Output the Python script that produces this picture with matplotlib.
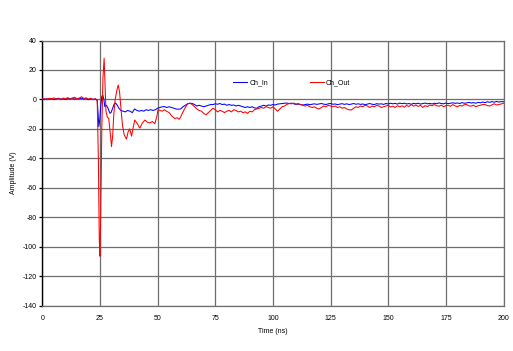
import matplotlib
matplotlib.use("Agg")
import matplotlib.pyplot as plt

plt.rcParams['font.family'] = ['Liberation Sans', 'DejaVu Sans']
plt.rcParams['axes.unicode_minus'] = False

# ---- Ch_In (blue), 0-59 ns, irregular sampling around the trigger ----
t_in_early = [0, 1, 2, 3, 4, 5, 6, 7, 8, 9,
              10, 11, 12, 13, 14, 15, 16, 17, 18, 19,
              20, 21, 22, 23, 23.8, 24.2, 24.5, 24.9, 25.3, 25.8,
              26.2, 26.7, 27.1, 27.8, 28.5, 29.3, 29.8, 30.5, 31.2, 31.8,
              32.5, 33.2, 34, 35, 36, 37, 38, 39, 40, 41,
              42, 43, 44, 45, 46, 47, 48, 49, 50, 51,
              52, 53, 54, 55, 56, 57, 58, 59]
v_in_early = [0.3, -0.2, 0.5, 0.1, 0.6, -0.1, 0.4, 0.8, 0.2, 0.5,
              -0.1, 0.6, 0.3, 0.9, 0.2, 0.6, 0.4, 0.8, 0.3, 0.5,
              -0.2, 0.4, 0.1, 0.3, -0.5, -10, -18.5, -14, -5, 2,
              3, 0, -4.9, -4, -6, -9.4, -9, -6, -3, -2.5,
              -4, -6, -7.5, -8, -8.5, -7.5, -8, -9, -6.5, -7.5,
              -8, -7.5, -8, -7, -7.5, -7, -7.5, -7, -6, -5.5,
              -5, -4.9, -5.5, -5, -5.5, -6, -6.5, -6.7]

# ---- Ch_Out (red), 0-59 ns ----
t_out_early = [0, 1, 2, 3, 4, 5, 6, 7, 8, 9,
               10, 11, 12, 13, 14, 15, 16, 17, 18, 19,
               20, 21, 22, 23, 23.8, 24.3, 24.7, 25.0, 25.3, 25.8,
               26.3, 26.8, 27.2, 27.6, 28.2, 28.8, 29.4, 30.0, 30.5, 31.0,
               31.6, 32.3, 32.9, 33.5, 34.2, 34.8, 35.5, 36.5, 37.2, 37.9,
               38.7, 39.4, 40.1, 41, 42.3, 43.4, 44.5, 45.5, 46.6, 47.7,
               48.8, 49.6, 50.2, 51, 52, 53, 53.8, 55, 56, 57.4,
               58.5, 59.3]
v_out_early = [0.2, 0.5, -0.3, 0.8, 0.3, 1.0, 0.2, 0.6, -0.2, 0.9,
               0.4, 1.2, 0.3, 0.7, 1.5, 0.5, 0.9, 1.8, 0.6, 1.1,
               0.2, 0.8, -0.3, 0.5, -1.0, -40, -95, -106.5, -80, -20,
               15, 28, 10, -8, -12, -13, -22, -32, -25, -10,
               0, 6, 9.8, 5, -8, -18, -24, -27, -22, -20,
               -25, -19, -14, -16, -19.5, -16, -14, -15.5, -16, -15,
               -16.5, -12, -7, -7.5, -8, -7, -8, -9, -11, -13,
               -12.5, -13.5]

# ---- 60-200 ns, 1 ns sampling, both channels ----
t_tail = [60, 61, 62, 63, 64, 65, 66, 67, 68, 69,
          70, 71, 72, 73, 74, 75, 76, 77, 78, 79,
          80, 81, 82, 83, 84, 85, 86, 87, 88, 89,
          90, 91, 92, 93, 94, 95, 96, 97, 98, 99,
          100, 101, 102, 103, 104, 105, 106, 107, 108, 109,
          110, 111, 112, 113, 114, 115, 116, 117, 118, 119,
          120, 121, 122, 123, 124, 125, 126, 127, 128, 129,
          130, 131, 132, 133, 134, 135, 136, 137, 138, 139,
          140, 141, 142, 143, 144, 145, 146, 147, 148, 149,
          150, 151, 152, 153, 154, 155, 156, 157, 158, 159,
          160, 161, 162, 163, 164, 165, 166, 167, 168, 169,
          170, 171, 172, 173, 174, 175, 176, 177, 178, 179,
          180, 181, 182, 183, 184, 185, 186, 187, 188, 189,
          190, 191, 192, 193, 194, 195, 196, 197, 198, 199,
          200]
v_in_tail = [-6.5, -5, -4, -3, -2.6, -2.8, -3.5, -4.5, -4, -4.5,
             -5, -4.5, -4, -3.5, -3.5, -3, -3.3, -2.8, -3.5, -3.2,
             -4, -3.5, -4, -3.8, -4.5, -4, -4.5, -5, -5.5, -5,
             -5.5, -5, -5.8, -6, -5, -4.5, -4, -4.5, -3.8, -4,
             -3.5, -3.8, -3.2, -3, -2.8, -2.6, -2.5, -2.8, -2.6, -3,
             -3.4, -3.2, -3.6, -3.8, -3.5, -3.2, -3.6, -3.3, -3.0, -3.4,
             -3.1, -2.8, -3.2, -3.5, -3.0, -2.8, -3.3, -3.1, -3.6, -3.2,
             -2.9, -3.4, -3.0, -3.5, -3.2, -2.8, -3.3, -3.0, -3.4, -3.1,
             -3.6, -3.2, -2.8, -3.3, -3.5, -2.9, -3.2, -3.0, -3.4, -2.8,
             -3.1, -2.6, -3.0, -2.7, -3.2, -2.5, -2.9, -2.6, -3.1, -2.8,
             -3.3, -2.7, -3.0, -2.6, -3.2, -2.8, -2.5, -3.0, -2.7, -3.1,
             -2.6, -2.9, -2.4, -2.8, -3.0, -2.5, -2.9, -2.6, -2.3, -2.7,
             -2.4, -2.8, -2.2, -2.6, -2.4, -2.0, -2.5, -2.2, -2.6, -2.0,
             -2.3, -1.8, -2.2, -1.6, -2.0, -1.5, -1.9, -1.4, -1.8, -1.5,
             -1.6]
v_out_tail = [-12, -8.5, -5.5, -3, -2.6, -3.5, -5, -6.5, -7.5, -8,
              -9.5, -10.5, -9, -7.5, -6, -7, -8.5, -7.5, -8, -9,
              -8, -7.5, -8.5, -7, -7.5, -8.5, -8, -9, -8.5, -9.5,
              -8, -8.5, -7, -6.5, -6, -5.5, -6, -5, -5.5, -6,
              -5, -6.5, -8, -6.5, -5, -4.5, -3.5, -2.8, -3, -2.5,
              -3.2, -2.8, -3.5, -4, -4.5, -4, -5, -5.5, -5, -6,
              -6.6, -5.5, -4.5, -5, -4, -4.5, -5, -4.5, -5.5, -5,
              -6, -5.5, -6.5, -7, -7.2, -6, -5, -5.5, -4.5, -5,
              -4, -4.5, -5.5, -4.5, -5, -4, -4.5, -5.5, -5, -4.5,
              -4, -5.2, -4.6, -5.5, -4.3, -5.0, -4.4, -5.3, -4.1, -4.8,
              -3.5, -4.6, -3.9, -4.8, -4.0, -5.5, -4.2, -4.9, -3.8, -4.4,
              -3.5, -4.3, -4.6, -3.9, -5.0, -4.2, -4.0, -4.7, -3.5, -4.4,
              -5.0, -4.1, -4.5, -3.6, -3.5, -4.4, -4.5, -3.9, -5.0, -4.3,
              -4.0, -3.4, -3.5, -4.2, -4.5, -3.7, -3.0, -3.8, -3.5, -3.1,
              -2.6]

series_labels = ['Ch_In', 'Ch_Out']
x_ticks = [0, 25, 50, 75, 100, 125, 150, 175, 200]
y_ticks = [40, 20, 0, -20, -40, -60, -80, -100, -120, -140]

t_in = t_in_early + t_tail
v_in = v_in_early + v_in_tail
t_out = t_out_early + t_tail
v_out = v_out_early + v_out_tail

fig = plt.figure(figsize=(5.13, 3.51), dpi=100)
ax = fig.add_axes([0.0825, 0.1296, 0.899, 0.755])

ax.plot(t_in, v_in, color='#0000ff', lw=0.75, label=series_labels[0], zorder=3)
ax.plot(t_out, v_out, color='#ff0000', lw=0.75, label=series_labels[1], zorder=4)

ax.set_xlim(0, 200)
ax.set_ylim(-140, 40)
ax.set_xticks(x_ticks)
ax.set_yticks(y_ticks)
ax.grid(True, color='#6e6e6e', lw=0.9)
ax.set_axisbelow(True)

for s in ['top', 'right', 'bottom']:
    ax.spines[s].set_color('#6e6e6e')
    ax.spines[s].set_linewidth(0.9)
ax.spines['left'].set_color('black')
ax.spines['left'].set_linewidth(1.0)

ax.tick_params(axis='y', length=2.5, width=0.9, pad=1.5, labelsize=5, colors='black')
ax.tick_params(axis='x', length=0, pad=7, labelsize=5)

ax.set_xlabel('Time (ns)', fontsize=5, labelpad=4)
ax.set_ylabel('Amplitude (V)', fontsize=5, labelpad=4)

ax.legend(loc='center left', bbox_to_anchor=(0.407, 0.84), ncol=2, frameon=False,
          fontsize=5, handlelength=2.0, handletextpad=0.3, columnspacing=6.0, borderpad=0)

fig.savefig('out.png', dpi=100)
